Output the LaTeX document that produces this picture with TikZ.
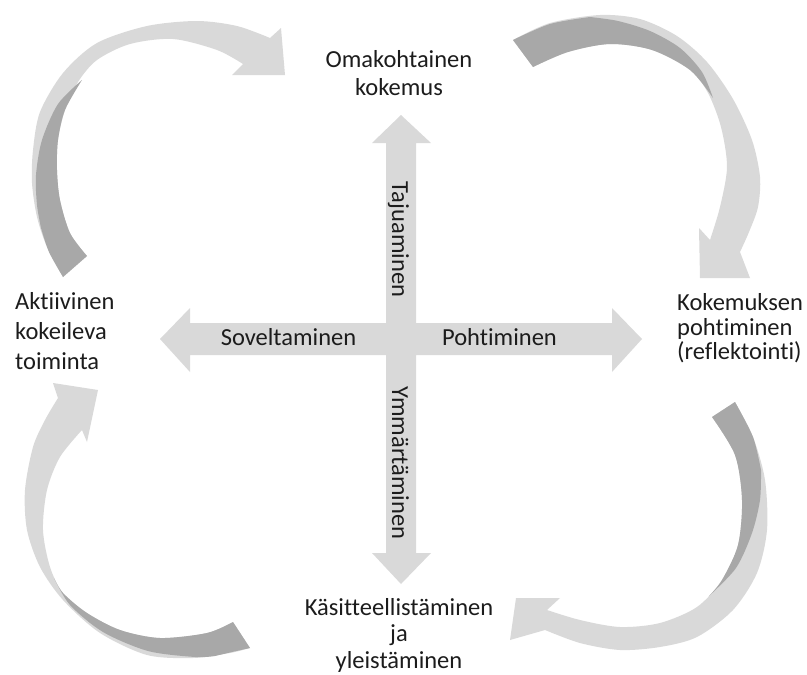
\documentclass[tikz,border=0pt]{standalone}
\usepackage{fontspec}
\setmainfont{Carlito}[Ligatures={NoCommon,NoContextual}]
\definecolor{arrowlight}{RGB}{217,217,217}
\definecolor{arrowdark}{RGB}{168,168,168}
\definecolor{labeltext}{RGB}{28,28,28}
\begin{document}
\begin{tikzpicture}[x=1pt,y=-1pt,
  band/.style={fill=arrowlight},
  twist/.style={fill=arrowdark},
  lbl/.style={inner sep=0pt, text=labeltext, font=\fontsize{24.5}{28}\selectfont},
]
\useasboundingbox (0,0) rectangle (807,675);

% central cross of two double arrows
\fill[band] (401,115) -- (431,143) -- (416,143) -- (416,323) -- (612,323)
  -- (612,308) -- (642,339) -- (612,372) -- (612,355) -- (416,355)
  -- (416,553) -- (431,553) -- (401,584) -- (372,553) -- (386,553)
  -- (386,355) -- (190,355) -- (190,372) -- (160,339) -- (190,308)
  -- (190,323) -- (386,323) -- (386,143) -- (372,143) -- cycle;

% upper left ribbon arrow
\fill[band] plot[smooth] coordinates {(63,277) (47,247) (37,217) (32,183) (33,150) (40,112) (63,73) (97,43) (147,26) (197,21) (237,26) (270,38)}
  -- (281,28) -- (285,75) -- (232,75)
  -- plot[smooth] coordinates {(243,64) (217,50) (173,39) (130,44) (97,60) (78,82) (65,110) (58,140) (57,170) (60,200) (70,233) (87,256)} -- cycle;
\fill[twist] plot[smooth] coordinates {(87,256) (70,233) (60,200) (57,170) (58,140) (65,110) (82,80)}
  -- plot[smooth] coordinates {(82,80) (58,104) (42,140) (36,175) (37,205) (41,228)}
  -- plot[smooth] coordinates {(41,228) (49,252) (63,277)} -- cycle;

% upper right ribbon arrow
\fill[band] plot[smooth] coordinates {(513,40) (550,23) (600,15) (640,19) (677,36) (707,62) (733,99) (752,140) (760,177) (758,207) (749,232) (740,252)}
  -- (750,278) -- (700,278) -- (699,228)
  -- plot[smooth] coordinates {(710,240) (720,207) (727,167) (721,127) (708,93) (690,70) (652,50) (610,44) (568,52) (533,67)} -- cycle;
\fill[twist] plot[smooth] coordinates {(533,67) (568,52) (610,44) (652,50) (690,70) (713,98)}
  -- plot[smooth] coordinates {(713,98) (702,72) (680,48) (650,31) (618,21) (590,17)}
  -- plot[smooth] coordinates {(590,17) (550,24) (513,40)} -- cycle;

% lower left ribbon arrow
\fill[band] plot[smooth] coordinates {(250,648) (230,653) (193,658) (147,655) (100,633) (63,600) (40,567) (27,530) (25,490) (33,447) (45,420) (58,398)}
  -- (53,383) -- (98,390) -- (87,442)
  -- plot[smooth] coordinates {(82,430) (60,457) (47,490) (43,530) (50,567) (63,593) (87,613) (120,630) (160,638) (207,633) (233,622)} -- cycle;
\fill[twist] plot[smooth] coordinates {(233,622) (207,633) (160,638) (120,630) (87,613) (63,593) (54,578)}
  -- plot[smooth] coordinates {(54,578) (70,605) (103,632) (148,651) (195,657) (215,656)}
  -- plot[smooth] coordinates {(215,656) (232,652) (250,648)} -- cycle;

% lower right ribbon arrow
\fill[band] plot[smooth] coordinates {(735,402) (753,437) (765,480) (767,530) (757,573) (733,610) (697,637) (660,647) (620,650) (580,643) (545,630)}
  -- (510,640) -- (516,598) -- (560,598)
  -- plot[smooth] coordinates {(547,610) (580,620) (620,627) (660,623) (697,607) (722,580) (738,545) (742,500) (735,455) (712,417)} -- cycle;
\fill[twist] plot[smooth] coordinates {(712,417) (735,455) (742,500) (738,545) (722,580) (709,596)}
  -- plot[smooth] coordinates {(709,596) (736,568) (752,533) (760,500) (761,470)}
  -- plot[smooth] coordinates {(761,470) (753,437) (735,402)} -- cycle;

% stage labels
\node[lbl, align=center] (kokemus) at (399,72.6) {Omakohtainen\\kokemus};
\node[lbl, align=left, anchor=west, font=\fontsize{24.5}{30}\selectfont] (toiminta) at (15,330.6) {Aktiivinen\\kokeileva\\toiminta};
\node[lbl, align=left, anchor=west, font=\fontsize{24.5}{24.5}\selectfont] (reflektointi) at (677,328.6) {Kokemuksen\\pohtiminen\\(reflektointi)};
\node[lbl, align=center, font=\fontsize{24.5}{26.5}\selectfont] (yleistaminen) at (399,635.4) {Käsitteellistäminen\\ja\\yleistäminen};

% labels on the cross
\node[lbl, anchor=base] (soveltaminen) at (288.5,345) {Soveltaminen};
\node[lbl, anchor=base] (pohtiminen) at (499.5,345) {Pohtiminen};
\node[lbl, anchor=base, rotate=-90] (tajuaminen) at (392,239.5) {Tajuaminen};
\node[lbl, anchor=base, rotate=-90] (ymmartaminen) at (392,463) {Ymmärtäminen};
\end{tikzpicture}
\end{document}
